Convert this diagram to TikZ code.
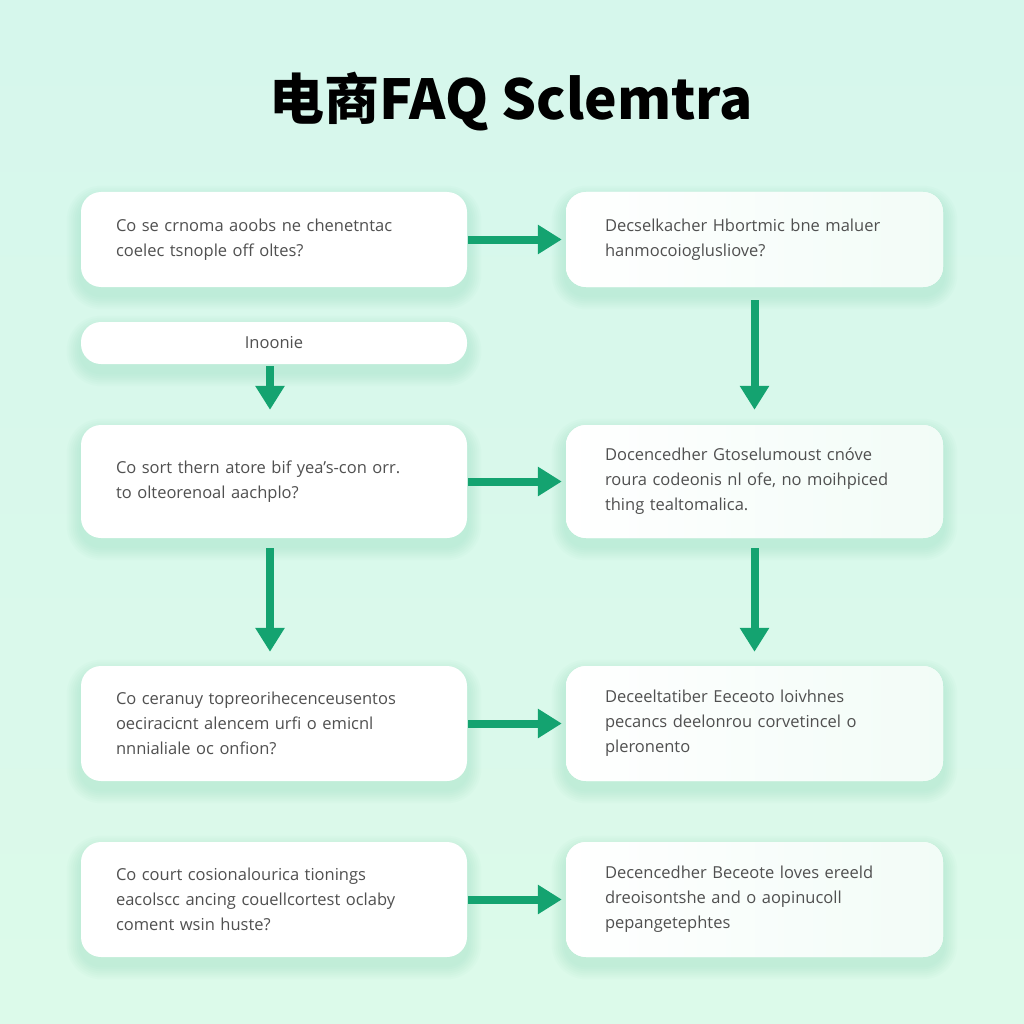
\documentclass[tikz,border=0pt]{standalone}
\usepackage{fontspec}
\setmainfont{Open Sans}
\newfontfamily\cjk{Noto Sans CJK SC}
\usetikzlibrary{arrows.meta,backgrounds}
\definecolor{bgtop}{HTML}{D6F7EC}
\definecolor{bgbot}{HTML}{DCFAEA}
\definecolor{arrc}{HTML}{14A370}
\definecolor{txtc}{HTML}{505050}
\definecolor{shc}{HTML}{6FD3A8}
\definecolor{boxr}{HTML}{F2FCF7}
\tikzset{
  x=1pt,y=-1pt,
  box/.style={rectangle, rounded corners=20pt, fill=white, align=left,
    font=\fontsize{16.5}{25}\selectfont, text=txtc, inner ysep=8pt},
  lbox/.style={box, minimum width=386pt, inner xsep=35pt, text width=316pt},
  rbox/.style={box, minimum width=377pt, inner xsep=39pt, text width=299pt,
    left color=white, right color=boxr},
  arr/.style={draw=arrc, line width=8pt, -{Triangle[width=28pt,length=24pt]}},
}
\begin{document}
\begin{tikzpicture}
\useasboundingbox (0,0) rectangle (1024,1024);
\node[font=\cjk\bfseries\fontsize{55}{62}\selectfont, text=black] (title) at (511,102) {电商FAQ Sclemtra};

\node[lbox, minimum height=95pt] (a1) at (274,239.5) {Co se crnoma aoobs ne chenetntac\\coelec tsnople off oltes?};
\node[rbox, minimum height=95pt] (b1) at (754.5,239.5) {Decselkacher Hbortmic bne maluer\\hanmocoioglusliove?};
\node[box, minimum width=386pt, minimum height=42pt, align=center] (bar) at (274,343) {Inoonie};
\node[lbox, minimum height=113pt] (a2) at (274,481.5) {Co sort thern atore bif yea's-con orr.\\to olteorenoal aachplo?};
\node[rbox, minimum height=113pt] (b2) at (754.5,481.5) {Docencedher Gtoselumoust cnóve\\roura codeonis nl ofe, no moihpiced\\thing tealtomalica.};
\node[lbox, minimum height=115pt] (a3) at (274,723.5) {Co ceranuy topreorihecenceusentos\\oeciracicnt alencem urfi o emicnl\\nnnialiale oc onfion?};
\node[rbox, minimum height=115pt] (b3) at (754.5,723.5) {Deceeltatiber Eeceoto loivhnes\\pecancs deelonrou corvetincel o\\pleronento};
\node[lbox, minimum height=115pt] (a4) at (274,899.5) {Co court cosionalourica tionings\\eacolscc ancing couellcortest oclaby\\coment wsin huste?};
\node[rbox, minimum height=115pt] (b4) at (754.5,899.5) {Decencedher Beceote loves ereeld\\dreoisontshe and o aopinucoll\\pepangetephtes};

\begin{scope}[on background layer]
  \shade[top color=bgtop, bottom color=bgbot] (0,0) rectangle (1024,1024);
  \foreach \n in {a1,b1,bar,a2,b2,a3,b3,a4,b4}{
    \foreach \i in {2,4,...,14}{
      \fill[shc, opacity=0.035, rounded corners=20pt+\i pt]
        ([shift={(-\i,-\i+8)}]\n.north west) rectangle ([shift={(\i,\i+8)}]\n.south east);
    }
  }
\end{scope}

\draw[arr, shorten <=1pt, shorten >=4pt] (a1.east) -- (b1.west);
\draw[arr, shorten <=1pt, shorten >=4pt] (a2.east) -- (b2.west);
\draw[arr, shorten <=1pt, shorten >=4pt] (a3.east) -- (b3.west);
\draw[arr, shorten <=1pt, shorten >=4pt] (a4.east) -- (b4.west);
\draw[arr, shorten <=13pt, shorten >=15pt] (b1.south) -- (b2.north);
\draw[arr, shorten <=10pt, shorten >=14pt] (b2.south) -- (b3.north);
\draw[arr, shorten <=2pt, shorten >=15pt] ([xshift=-4pt]bar.south) -- ([xshift=-4pt]a2.north);
\draw[arr, shorten <=10pt, shorten >=14pt] ([xshift=-4pt]a2.south) -- ([xshift=-4pt]a3.north);
\end{tikzpicture}
\end{document}
